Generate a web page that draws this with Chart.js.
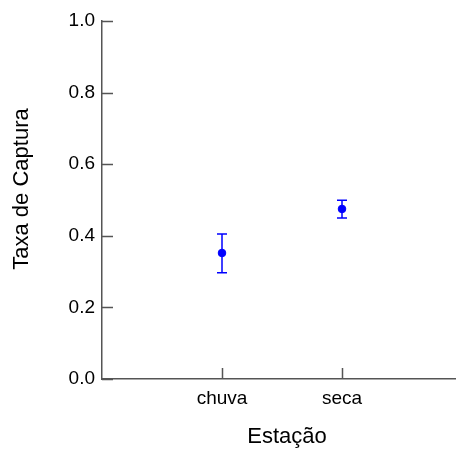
<!DOCTYPE html>
<html>
<head>
<meta charset="utf-8">
<script src="https://cdn.jsdelivr.net/npm/chart.js@4.4.0/dist/chart.umd.min.js"></script>
<style>
  html, body { margin: 0; padding: 0; background: #fff; }
  #box { width: 456px; height: 450px; }
</style>
</head>
<body>
<div id="box"><canvas id="grafico"></canvas></div>
<script>
// estações e taxa média de captura, com limites do intervalo
const estacoes = ["chuva", "seca"];
const taxa = [0.352, 0.475];
const limInf = [0.297, 0.450];
const limSup = [0.405, 0.499];
const yTicks = [0.0, 0.2, 0.4, 0.6, 0.8, 1.0];

const azul = "#0000ff";
const eixo = "#555555";
const fonte = "'Liberation Sans', Arial, sans-serif";

// barras de erro verticais com traço nas pontas
const barrasErro = {
  id: "barrasErro",
  afterDatasetsDraw(chart) {
    const ctx = chart.ctx;
    const x = chart.scales.x, y = chart.scales.y;
    ctx.save();
    ctx.strokeStyle = azul;
    ctx.lineWidth = 1.5;
    estacoes.forEach((e, i) => {
      const px = x.getPixelForValue(i + 1);
      const yi = y.getPixelForValue(limInf[i]);
      const ys = y.getPixelForValue(limSup[i]);
      ctx.beginPath();
      ctx.moveTo(px, yi); ctx.lineTo(px, ys);
      ctx.moveTo(px - 5, yi); ctx.lineTo(px + 5, yi);
      ctx.moveTo(px - 5, ys); ctx.lineTo(px + 5, ys);
      ctx.stroke();
    });
    ctx.restore();
  }
};

// marcas dos eixos para dentro + títulos
const eixos = {
  id: "eixos",
  afterDraw(chart) {
    const ctx = chart.ctx;
    const x = chart.scales.x, y = chart.scales.y;
    const area = chart.chartArea;
    ctx.save();
    ctx.strokeStyle = eixo;
    ctx.lineWidth = 1.5;
    ctx.beginPath();
    yTicks.forEach(v => {
      const py = Math.round(y.getPixelForValue(v)) + 0.5;
      ctx.moveTo(area.left, py); ctx.lineTo(area.left + 11, py);
    });
    estacoes.forEach((e, i) => {
      const px = Math.round(x.getPixelForValue(i + 1)) + 0.5;
      ctx.moveTo(px, area.bottom); ctx.lineTo(px, area.bottom - 11);
    });
    ctx.stroke();

    ctx.fillStyle = "#000";
    ctx.textAlign = "center";
    ctx.textBaseline = "middle";
    ctx.font = "22px " + fonte;
    ctx.fillText("Estação", 287, 437);
    ctx.translate(22, 189);
    ctx.rotate(-Math.PI / 2);
    ctx.fillText("Taxa de Captura", 0, 0);
    ctx.restore();
  }
};

const config = {
  type: "scatter",
  data: {
    datasets: [{
      data: taxa.map((v, i) => ({ x: i + 1, y: v })),
      backgroundColor: azul,
      borderColor: azul,
      pointRadius: 3.8,
      pointHoverRadius: 3.8,
    }],
  },
  options: {
    responsive: false,
    animation: false,
    events: [],
    layout: { autoPadding: false, padding: { top: 21, right: 0, left: 0, bottom: 0 } },
    plugins: { legend: { display: false }, tooltip: { enabled: false } },
    scales: {
      x: {
        type: "linear",
        min: 0,
        max: 2.95,
        afterBuildTicks(s) { s.ticks = estacoes.map((e, i) => ({ value: i + 1 })); },
        afterFit(s) { s.height = 71; s.paddingLeft = 0; s.paddingRight = 0; },
        grid: { display: false, drawTicks: false },
        border: { display: true, color: eixo, width: 1.5 },
        ticks: {
          padding: 8,
          color: "#000",
          font: { family: fonte, size: 19 },
          callback: (v) => estacoes[v - 1] || "",
        },
      },
      y: {
        min: 0,
        max: 1,
        afterBuildTicks(s) { s.ticks = yTicks.map(v => ({ value: v })); },
        afterFit(s) { s.width = 102; s.paddingTop = 0; s.paddingBottom = 0; },
        grid: { display: false, drawTicks: false },
        border: { display: true, color: eixo, width: 1.5 },
        ticks: {
          padding: 7,
          color: "#000",
          font: { family: fonte, size: 19 },
          callback: (v) => v.toFixed(1),
        },
      },
    },
  },
  plugins: [barrasErro, eixos],
};

const canvas = document.getElementById("grafico");
canvas.width = 456;
canvas.height = 450;
new Chart(canvas, config);
</script>
</body>
</html>
